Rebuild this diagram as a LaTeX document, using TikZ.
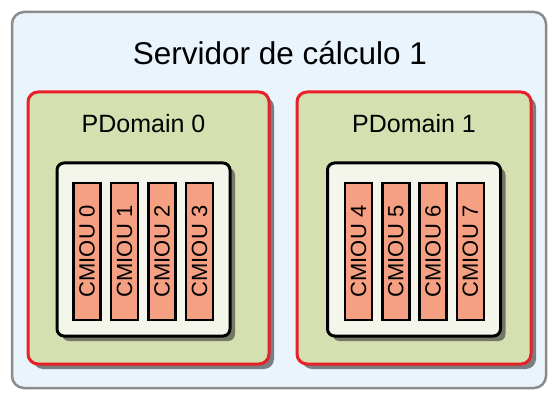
\documentclass[tikz,border=0pt]{standalone}
\usepackage{fontspec}
\setmainfont{Liberation Sans}
\usetikzlibrary{shadows}
\definecolor{srvfill}{RGB}{234,244,252}
\definecolor{srvline}{RGB}{140,140,140}
\definecolor{pdfill}{RGB}{213,224,176}
\definecolor{pdline}{RGB}{232,32,40}
\definecolor{boardfill}{RGB}{244,246,236}
\definecolor{cmfill}{RGB}{245,160,130}
\begin{document}
\begin{tikzpicture}[x=1pt,y=-1pt,
  server/.style={draw=srvline,fill=srvfill,line width=2.5pt,rounded corners=12pt,minimum width=534pt,minimum height=376pt,inner sep=0pt},
  pdomain/.style={draw=pdline,fill=pdfill,line width=3pt,rounded corners=10pt,minimum height=272pt,inner sep=0pt,
    drop shadow={shadow xshift=5pt,shadow yshift=-5pt,opacity=0.65,fill=black!75}},
  board/.style={draw=black,fill=boardfill,line width=3pt,rounded corners=7pt,minimum width=173pt,minimum height=173pt,inner sep=0pt,
    drop shadow={shadow xshift=5pt,shadow yshift=-5pt,opacity=0.65,fill=black!75}},
  cmiou/.style={draw=black,fill=cmfill,line width=2.5pt,minimum width=27pt,minimum height=137pt,inner sep=0pt,font=\fontsize{22}{22}\selectfont}]
\useasboundingbox (0,0) rectangle (558,404);
\node[server] (srv) at (279,200){};
\node[font=\fontsize{31.5}{31.5}\selectfont] (srvlab) at (280,53){Servidor de cálculo 1};
% dominios
\node[pdomain,minimum width=241pt] (pd0) at (148.5,228){};
\node[pdomain,minimum width=234pt] (pd1) at (414,228){};
\node[font=\fontsize{25}{25}\selectfont] (pd0lab) at (143.5,124){PDomain 0};
\node[font=\fontsize{25}{25}\selectfont] (pd1lab) at (414,124){PDomain 1};
\node[board] (b0) at (143.5,249.5){};
\node[board] (b1) at (414,249.5){};
% CMIOU
\foreach \i in {0,...,3}{
  \node[cmiou] (cm\i) at (87+37.5*\i,251.5){\rotatebox{90}{CMIOU \i}};
}
\foreach \i [evaluate=\i as \j using int(\i+4)] in {0,...,3}{
  \node[cmiou] (cm\j) at (358.5+37.3*\i,251.5){\rotatebox{90}{CMIOU \j}};
}
\end{tikzpicture}
\end{document}
